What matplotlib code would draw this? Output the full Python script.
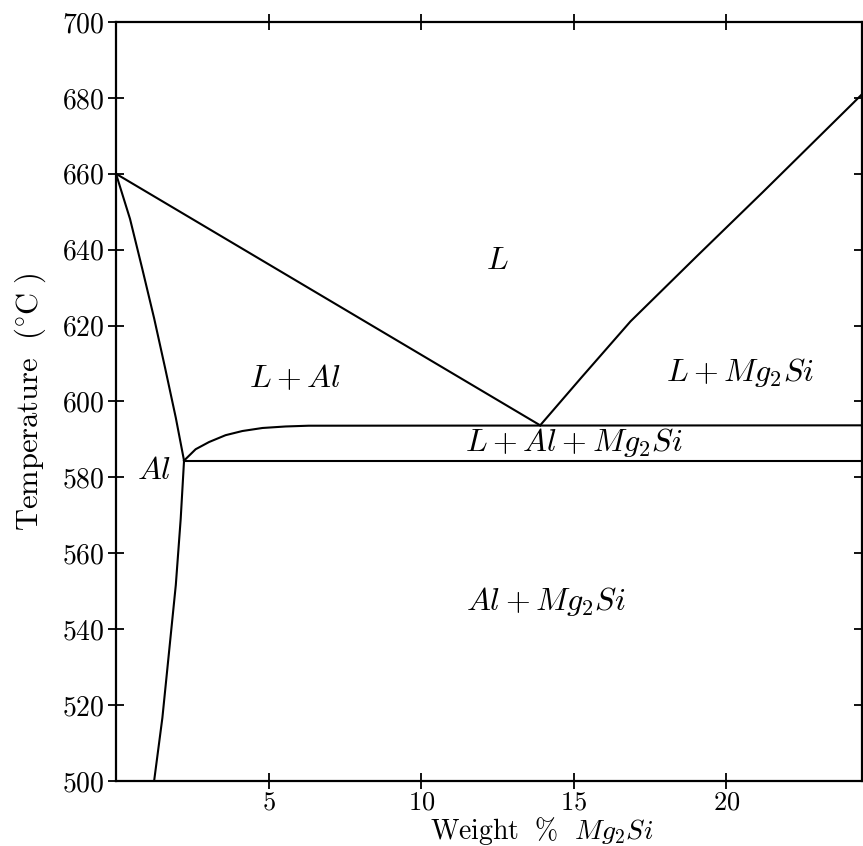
import matplotlib
matplotlib.use("Agg")
import matplotlib.pyplot as plt

plt.rcParams['font.family'] = 'serif'
plt.rcParams['font.serif'] = ['cmr10', 'DejaVu Serif']
plt.rcParams['mathtext.fontset'] = 'cm'
plt.rcParams['axes.formatter.use_mathtext'] = True

# phase boundaries (wt% Mg2Si, deg C)
solidus_x = [0.0, 0.46, 0.86, 1.25, 1.61, 1.96, 2.23]
solidus_y = [660, 648.1, 635.0, 621.9, 608.8, 595.7, 584.4]

solvus_x = [2.23, 2.12, 1.96, 1.74, 1.52, 1.25]
solvus_y = [584.4, 569, 551.6, 534.1, 516.6, 500]

liq_al_x = [0.0, 13.9]
liq_al_y = [660, 593.7]

liq_mg_x = [13.9, 15.24, 16.86, 19.05, 21.2, 24.1, 24.45]
liq_mg_y = [593.7, 606.2, 621.1, 638.4, 655.2, 678.2, 681]

upper_x = [2.23, 2.61, 3.05, 3.59, 4.14, 4.8, 5.56, 6.31, 24.45]
upper_y = [584.4, 587.4, 589.3, 591.1, 592.2, 593.0, 593.4, 593.6, 593.7]

eut_x = [2.23, 24.45]
eut_y = [584.4, 584.4]

labels = [r'$L$', r'$L + Al$', r'$L + Mg_2Si$', r'$L + Al + Mg_2Si$', r'$Al$', r'$Al + Mg_2Si$']
label_x = [12.5, 5.86, 20.45, 15.0, 1.24, 14.1]
label_y = [637, 606.2, 607.5, 589.3, 581.5, 547.2]

xticks = [5, 10, 15, 20]
yticks = list(range(500, 701, 20))

fig = plt.figure(figsize=(8.63, 8.46), dpi=100)
ax = fig.add_axes([0.1344, 0.077, 0.8646, 0.897])

lw = 1.5
for xs, ys in [(solidus_x, solidus_y), (solvus_x, solvus_y), (liq_al_x, liq_al_y),
               (liq_mg_x, liq_mg_y), (upper_x, upper_y), (eut_x, eut_y)]:
    ax.plot(xs, ys, color='black', lw=lw)

for t, x, y in zip(labels, label_x, label_y):
    ax.text(x, y, t, fontsize=23, ha='center', va='center')

ax.set_xlim(0, 24.45)
ax.set_ylim(500, 700)
ax.set_xticks(xticks)
ax.set_yticks(yticks)
ax.tick_params(direction='inout', length=12, width=1.3, labelsize=20, pad=2,
               top=True, right=True)
ax.tick_params(axis='x', labelsize=19, pad=1)
for s in ax.spines.values():
    s.set_linewidth(1.6)

ax.set_xlabel(r'$\mathrm{Weight}\ \ \%\ \ Mg_2Si$', fontsize=20, va='baseline')
ax.xaxis.set_label_coords(0.571, -0.077)
ax.set_ylabel(r'$\mathrm{Temperature}\ \ (^{\circ}\mathrm{C}\ )$', fontsize=22, labelpad=10)

fig.savefig('out.png', dpi=100)
